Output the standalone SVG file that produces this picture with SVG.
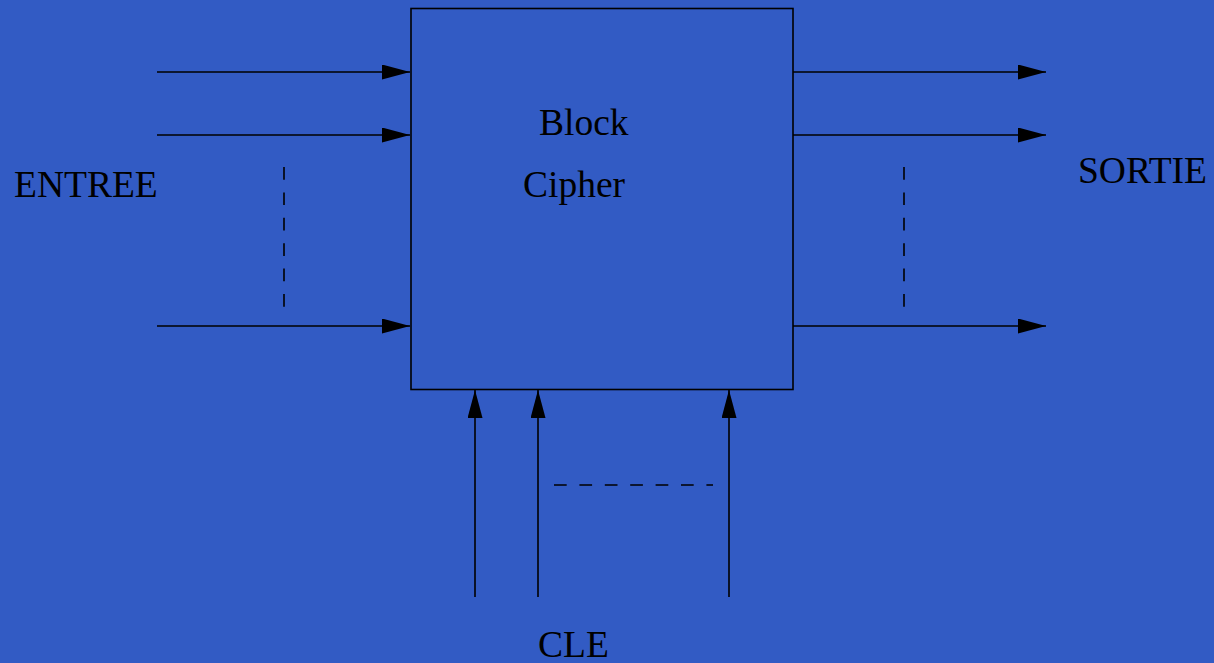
<svg xmlns="http://www.w3.org/2000/svg" width="1214" height="663" viewBox="0 0 1214 663">
<style>
.ln{stroke:#000;stroke-width:1.6;fill:none}
.ds{stroke:#000;stroke-width:1.6;fill:none;stroke-dasharray:12.7 12.7}
.tx{font-family:"Liberation Serif","Times New Roman",serif;font-size:37.5px;fill:#000}
</style>
<defs>
<marker id="ah" viewBox="0 0 28 15" refX="28" refY="7.5" markerWidth="28" markerHeight="15" markerUnits="userSpaceOnUse" orient="auto">
<path d="M0,0 L28,7.5 L0,15 Z" fill="#000"/>
</marker>
</defs>
<rect width="1214" height="663" fill="#325bc4"/>
<g id="block">
<rect x="411" y="8.5" width="382" height="381" class="ln"/>
<text class="tx" x="539" y="135">Block</text>
<text class="tx" x="523" y="197">Cipher</text>
</g>
<g id="entree">
<text class="tx" x="14" y="197">ENTREE</text>
</g>
<g id="sortie">
<text class="tx" x="1078" y="183">SORTIE</text>
</g>
<g id="cle">
<text class="tx" x="538" y="657">CLE</text>
</g>
<g id="connectors">
<line class="ln" x1="157" y1="72" x2="410" y2="72" marker-end="url(#ah)"/>
<line class="ln" x1="157" y1="135" x2="410" y2="135" marker-end="url(#ah)"/>
<line class="ln" x1="157" y1="326" x2="410" y2="326" marker-end="url(#ah)"/>
<line class="ln" x1="793" y1="72" x2="1046" y2="72" marker-end="url(#ah)"/>
<line class="ln" x1="793" y1="135" x2="1046" y2="135" marker-end="url(#ah)"/>
<line class="ln" x1="793" y1="326" x2="1046" y2="326" marker-end="url(#ah)"/>
<line class="ln" x1="475" y1="597" x2="475" y2="390" marker-end="url(#ah)"/>
<line class="ln" x1="538" y1="597" x2="538" y2="390" marker-end="url(#ah)"/>
<line class="ln" x1="729" y1="597" x2="729" y2="390" marker-end="url(#ah)"/>
<line class="ds" x1="284" y1="167" x2="284" y2="307"/>
<line class="ds" x1="904" y1="167" x2="904" y2="307"/>
<line class="ds" x1="554" y1="485" x2="713" y2="485"/>
</g>
</svg>
